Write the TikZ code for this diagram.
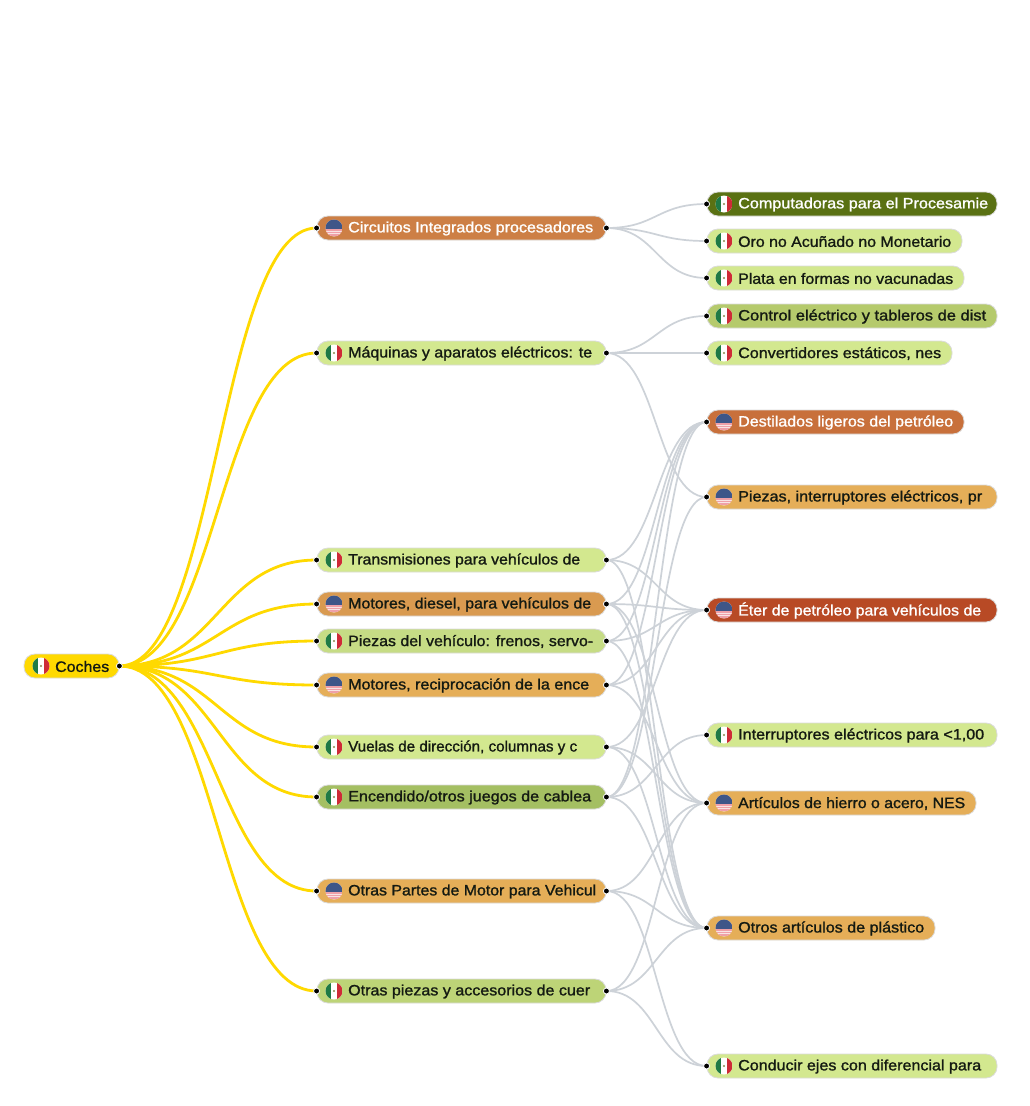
\documentclass[tikz,border=0pt]{standalone}
\usepackage{fontspec}
\setmainfont{Liberation Sans}[FakeBold=1.2]
\usepackage{graphicx}
\definecolor{ink}{HTML}{141A12}
\definecolor{edgeg}{HTML}{CDD2D8}
\definecolor{yel}{HTML}{FFD900}
\definecolor{cA}{HTML}{D3E88F}
\definecolor{cB}{HTML}{E5AE58}
\definecolor{cC}{HTML}{CD7F45}
\definecolor{cD}{HTML}{D99A50}
\definecolor{cE}{HTML}{C6DC85}
\definecolor{cF}{HTML}{A4BF62}
\definecolor{cG}{HTML}{BDD477}
\definecolor{cH}{HTML}{5A7113}
\definecolor{cI}{HTML}{B5CA6C}
\definecolor{cJ}{HTML}{C8703B}
\definecolor{cK}{HTML}{B84A25}
\definecolor{usb}{HTML}{3E5688}
\definecolor{usr}{HTML}{EFA0A8}
\definecolor{usw}{HTML}{F8E4E4}
\definecolor{mxg}{HTML}{1F7A45}
\definecolor{mxr}{HTML}{CE2B37}
\definecolor{mxm}{HTML}{8A8A50}
\newcommand{\flagmx}[2]{\begin{scope}\clip (#1,#2) circle (8.5);
 \fill[white] (#1-9,#2-9) rectangle (#1+9,#2+9);
 \fill[mxg] (#1-9,#2-9) rectangle (#1-2.8,#2+9);
 \fill[mxr] (#1+2.8,#2-9) rectangle (#1+9,#2+9);
 \fill[mxm] (#1,#2) circle (1.2);\end{scope}}
\newcommand{\flagus}[2]{\begin{scope}\clip (#1,#2) circle (8.5);
 \fill[usw] (#1-9,#2-9) rectangle (#1+9,#2+9);
 \fill[usb] (#1-9,#2-9) rectangle (#1+9,#2+1);
 \foreach \k in {1,3.6,6.2}{\fill[usr] (#1-9,#2+\k) rectangle (#1+9,#2+\k+1.6);}\end{scope}}
% name, x1, x2, y, fill, textcolour, flag, text end x, text
\newcommand{\mapnode}[9]{%
 \pgfmathsetmacro{\mw}{#3-#2}\pgfmathsetmacro{\mc}{(#2+#3)/2}%
 \pgfmathsetmacro{\mf}{#2+17}\pgfmathsetmacro{\mt}{#2+31}\pgfmathsetmacro{\mr}{#8-#2-31}%
 \pgfmathsetmacro{\my}{#4+0.5}%
 \node[pill,fill=#5,minimum width=\mw pt] (#1) at (\mc,#4) {};
 \csname flag#7\endcsname{\mf}{#4}
 \node[lbl,text=#6] (#1t) at (\mt,\my) {\resizebox{\mr pt}{\height}{#9}};
}
\tikzset{
 pill/.style={draw=black!14,line width=0.8pt,rounded corners=11pt,minimum height=24pt,inner sep=0pt},
 lbl/.style={anchor=west,inner sep=0pt,font=\fontsize{15}{17}\selectfont},
 link/.style={draw=edgeg,line width=1.7pt},
 trunk/.style={draw=yel,line width=2.8pt},
 portdot/.style={circle,fill=black,draw=white,line width=0.8pt,inner sep=0pt,minimum size=6pt},
}
\newcommand{\lk}[2]{\draw[link] (#1.east) .. controls +(50,0) and +(-50,0) .. (#2.west);}
\newcommand{\tk}[1]{\draw[trunk] (root.east) .. controls +(98,0) and +(-98,0) .. (#1.west);}
\newcommand{\pe}[1]{\node[portdot] (#1pe) at (#1.east) {};}
\newcommand{\pw}[1]{\node[portdot] (#1pw) at (#1.west) {};}
\begin{document}
\begin{tikzpicture}[x=1pt,y=-1pt]
\useasboundingbox (0,0) rectangle (1030,1106);
\fill[white] (0,0) rectangle (1030,1106);
\mapnode{root}{24}{119}{666}{yel}{ink}{mx}{109}{Coches}
\mapnode{la}{317}{606}{228}{cC}{white}{us}{593}{Circuitos Integrados procesadores}
\mapnode{lb}{317}{606}{353}{cA}{ink}{mx}{592}{Máquinas y aparatos eléctricos: te}
\mapnode{lc}{317}{606}{560}{cA}{ink}{mx}{580}{Transmisiones para vehículos de}
\mapnode{ld}{317}{606}{604}{cD}{ink}{us}{591}{Motores, diesel, para vehículos de}
\mapnode{le}{317}{606}{641}{cE}{ink}{mx}{593}{Piezas del vehículo: frenos, servo-}
\mapnode{lf}{317}{606}{685}{cB}{ink}{us}{589}{Motores, reciprocación de la ence}
\mapnode{lg}{317}{606}{747}{cA}{ink}{mx}{577}{Vuelas de dirección, columnas y c}
\mapnode{lh}{317}{606}{797}{cF}{ink}{mx}{591}{Encendido/otros juegos de cablea}
\mapnode{li}{317}{606}{891}{cB}{ink}{us}{596}{Otras Partes de Motor para Vehicul}
\mapnode{lj}{317}{606}{991}{cG}{ink}{mx}{590}{Otras piezas y accesorios de cuer}
\mapnode{ra}{707}{997}{204}{cH}{white}{mx}{988}{Computadoras para el Procesamie}
\mapnode{rb}{707}{962}{241}{cA}{ink}{mx}{951}{Oro no Acuñado no Monetario}
\mapnode{rc}{707}{964}{278}{cA}{ink}{mx}{953}{Plata en formas no vacunadas}
\mapnode{rd}{707}{997}{316}{cI}{ink}{mx}{986}{Control eléctrico y tableros de dist}
\mapnode{re}{707}{952}{353}{cA}{ink}{mx}{941}{Convertidores estáticos, nes}
\mapnode{rf}{707}{964}{422}{cJ}{white}{us}{953}{Destilados ligeros del petróleo}
\mapnode{rg}{707}{997}{497}{cB}{ink}{us}{982}{Piezas, interruptores eléctricos, pr}
\mapnode{rh}{707}{997}{610}{cK}{white}{us}{981}{Éter de petróleo para vehículos de}
\mapnode{ri}{707}{997}{735}{cA}{ink}{mx}{984}{Interruptores eléctricos para <1,00}
\mapnode{rj}{707}{976}{803}{cB}{ink}{us}{965}{Artículos de hierro o acero, NES}
\mapnode{rk}{707}{935}{928}{cB}{ink}{us}{924}{Otros artículos de plástico}
\mapnode{rl}{707}{997}{1066}{cA}{ink}{mx}{981}{Conducir ejes con diferencial para}
% connectors
\lk{la}{ra}\lk{la}{rb}\lk{la}{rc}
\lk{lb}{rd}\lk{lb}{re}\lk{lb}{rg}
\lk{lc}{rf}\lk{lc}{rh}\lk{lc}{rk}
\lk{ld}{rf}\lk{ld}{rh}\lk{ld}{rj}\lk{ld}{rk}
\lk{le}{rf}\lk{le}{rh}\lk{le}{rk}
\lk{lf}{rf}\lk{lf}{rh}\lk{lf}{rj}
\lk{lg}{rh}\lk{lg}{rj}\lk{lg}{rk}
\lk{lh}{rf}\lk{lh}{rg}\lk{lh}{ri}\lk{lh}{rk}
\lk{li}{rj}\lk{li}{rk}\lk{li}{rl}
\lk{lj}{rj}\lk{lj}{rk}\lk{lj}{rl}
\tk{la}\tk{lb}\tk{lc}\tk{ld}\tk{le}\tk{lf}\tk{lg}\tk{lh}\tk{li}\tk{lj}
% ports
\pe{root}
\foreach \n in {la,lb,lc,ld,le,lf,lg,lh,li,lj}{\pe{\n}\pw{\n}}
\foreach \n in {ra,rb,rc,rd,re,rf,rg,rh,ri,rj,rk,rl}{\pw{\n}}
\end{tikzpicture}
\end{document}
